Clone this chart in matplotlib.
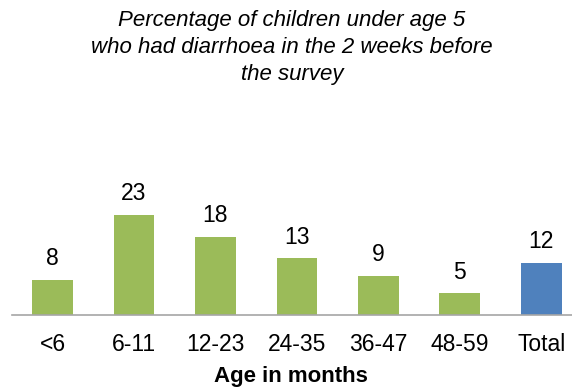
import matplotlib.pyplot as plt

# values
categories = ['<6', '6-11', '12-23', '24-35', '36-47', '48-59', 'Total']
values = [8, 23, 18, 13, 9, 5, 12]
bar_colors = ['#9BBB59'] * 6 + ['#4F81BD']

plt.rcParams['font.family'] = ['Liberation Sans', 'DejaVu Sans']

W, H = 572, 387
fig = plt.figure(figsize=(W / 100, H / 100), dpi=100)

# axes placed in pixel terms: baseline at y=315, category spacing ~81.5 px
left_px = 11.75
base_px = 315
ymax = 30
ax = fig.add_axes([left_px / W, (H - base_px) / H, (W - left_px) / W, ymax * 4.35 / H])

x = range(len(categories))
bars = ax.bar(x, values, width=0.5, color=bar_colors)
for b, v in zip(bars, values):
    ax.annotate(str(v), (b.get_x() + b.get_width() / 2, v), xytext=(0, 7),
                textcoords='offset points', ha='center', va='bottom', fontsize=16.5)

ax.set_xlim(-0.5, 6.5 - 10 / 81.5)
ax.set_ylim(0, ymax)
ax.set_xticks(list(x))
ax.set_xticklabels(categories, fontsize=16.5)
ax.tick_params(axis='x', length=0, pad=13)
ax.set_yticks([])
for s in ['top', 'right', 'left']:
    ax.spines[s].set_visible(False)
ax.spines['bottom'].set_color('#A6A6A6')
ax.spines['bottom'].set_linewidth(1.2)

fig.text(291 / W, 1 - 382 / H, 'Age in months', ha='center', va='baseline',
         fontsize=16, fontweight='bold')

fig.text(292 / W, 1 - 10 / H,
         'Percentage of children under age 5\nwho had diarrhoea in the 2 weeks before\nthe survey',
         ha='center', va='top', fontsize=16, style='italic', linespacing=1.38)

fig.savefig('out.png', dpi=100)
